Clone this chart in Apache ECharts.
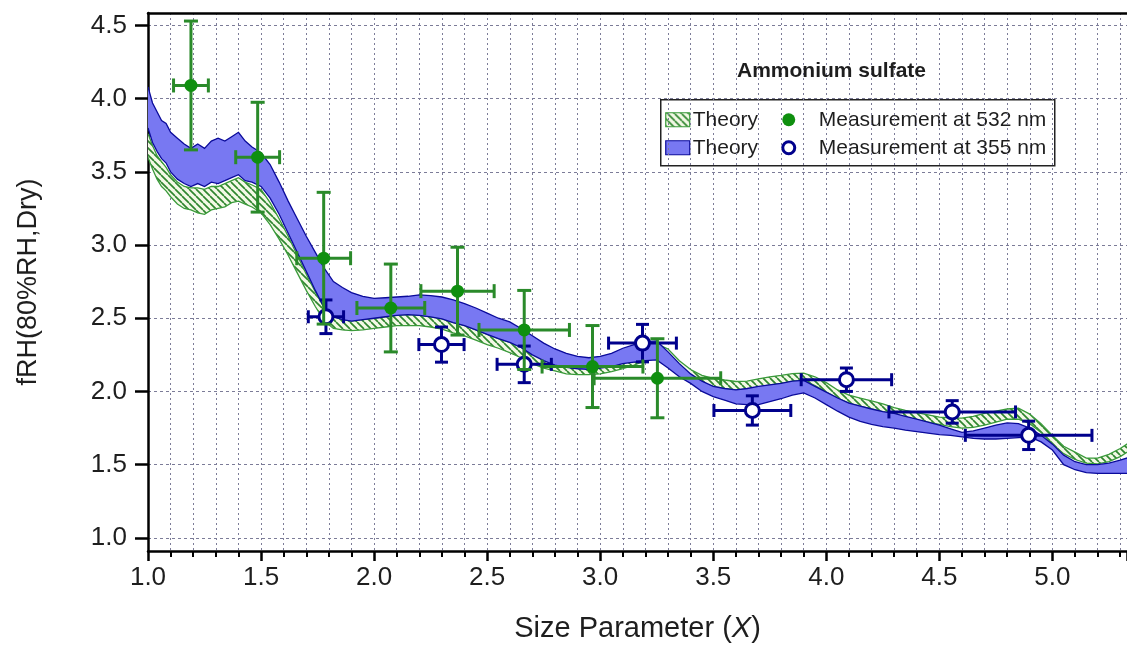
<!DOCTYPE html>
<html>
<head>
<meta charset="utf-8">
<script src="https://cdn.jsdelivr.net/npm/echarts@6/dist/echarts.min.js"></script>
<style>
  html, body { margin: 0; padding: 0; background: #ffffff; }
  #chart { width: 1127px; height: 648px; }
</style>
</head>
<body>
<div id="chart"></div>
<script>
// ---- Theory bands: size parameter and lower / upper fRH bounds ----
const theoryX = [1.00,1.02,1.04,1.06,1.08,1.10,1.13,1.16,1.19,1.22,1.25,1.28,1.31,1.34,1.37,1.40,1.43,1.46,
  1.50,1.54,1.58,1.62,1.66,1.70,1.74,1.78,1.82,1.86,1.90,1.95,2.00,2.05,2.10,2.15,2.20,2.25,2.30,2.35,2.40,
  2.45,2.50,2.55,2.60,2.65,2.70,2.75,2.80,2.85,2.90,2.95,3.00,3.05,3.10,3.15,3.20,3.25,3.30,3.35,3.40,3.45,
  3.50,3.55,3.60,3.65,3.70,3.75,3.80,3.85,3.90,3.95,4.00,4.05,4.10,4.15,4.20,4.25,4.30,4.35,4.40,4.45,4.50,
  4.55,4.60,4.65,4.70,4.75,4.80,4.85,4.90,4.95,5.00,5.05,5.10,5.15,5.20,5.25,5.30,5.34];

// 532 nm theory band
const theory532Low = [3.60,3.52,3.45,3.40,3.37,3.33,3.28,3.25,3.24,3.22,3.21,3.24,3.25,3.26,3.29,3.30,3.28,3.26,
  3.22,3.14,3.04,2.93,2.81,2.69,2.58,2.48,2.43,2.42,2.415,2.42,2.43,2.44,2.45,2.45,2.45,2.44,2.425,2.40,2.38,
  2.35,2.32,2.295,2.265,2.23,2.19,2.16,2.14,2.12,2.115,2.115,2.12,2.135,2.155,2.18,2.21,2.25,2.20,2.13,2.08,2.055,
  2.035,2.02,2.01,2.015,2.03,2.045,2.055,2.07,2.075,2.04,1.995,1.955,1.92,1.90,1.88,1.862,1.845,1.825,1.805,1.79,1.775,
  1.76,1.75,1.755,1.77,1.79,1.81,1.81,1.78,1.72,1.64,1.575,1.535,1.51,1.505,1.52,1.555,1.595];
const theory532High = [3.76,3.68,3.61,3.57,3.53,3.48,3.43,3.40,3.39,3.39,3.38,3.40,3.40,3.42,3.44,3.46,3.43,3.41,
  3.38,3.29,3.18,3.06,2.93,2.80,2.68,2.57,2.51,2.49,2.48,2.49,2.50,2.51,2.52,2.525,2.52,2.51,2.495,2.47,2.45,
  2.42,2.39,2.36,2.335,2.30,2.255,2.22,2.19,2.175,2.165,2.165,2.175,2.19,2.21,2.24,2.275,2.325,2.29,2.21,2.15,2.11,
  2.09,2.078,2.068,2.07,2.085,2.10,2.11,2.122,2.125,2.10,2.06,2.01,1.975,1.955,1.935,1.915,1.89,1.87,1.855,1.84,1.825,
  1.82,1.818,1.83,1.85,1.865,1.88,1.885,1.845,1.78,1.70,1.625,1.585,1.545,1.545,1.57,1.61,1.65];

// 355 nm theory band
const theory355Low = [3.80,3.70,3.64,3.59,3.56,3.50,3.45,3.42,3.40,3.42,3.40,3.43,3.42,3.44,3.46,3.48,3.44,3.43,
  3.40,3.32,3.21,3.08,2.95,2.82,2.69,2.57,2.51,2.49,2.48,2.49,2.50,2.51,2.52,2.525,2.52,2.51,2.495,2.47,2.45,
  2.42,2.39,2.36,2.335,2.30,2.25,2.21,2.18,2.165,2.155,2.15,2.16,2.17,2.19,2.20,2.21,2.215,2.16,2.10,2.055,2.00,
  1.965,1.94,1.915,1.91,1.91,1.93,1.95,1.975,1.99,1.955,1.91,1.865,1.825,1.795,1.775,1.76,1.75,1.735,1.725,1.715,1.705,
  1.70,1.69,1.68,1.675,1.675,1.68,1.685,1.69,1.655,1.60,1.50,1.465,1.445,1.44,1.44,1.44,1.44];
const theory355High = [4.08,3.97,3.91,3.85,3.83,3.77,3.73,3.69,3.66,3.69,3.66,3.71,3.73,3.71,3.74,3.77,3.71,3.67,
  3.63,3.55,3.43,3.30,3.18,3.06,2.95,2.84,2.75,2.71,2.675,2.65,2.635,2.64,2.645,2.65,2.66,2.655,2.645,2.625,2.60,
  2.57,2.535,2.50,2.475,2.43,2.38,2.33,2.29,2.26,2.24,2.23,2.24,2.26,2.295,2.32,2.34,2.345,2.27,2.19,2.12,2.07,
  2.035,2.02,2.01,2.02,2.035,2.045,2.055,2.07,2.075,2.035,1.995,1.955,1.92,1.90,1.88,1.862,1.85,1.83,1.81,1.79,1.77,
  1.745,1.72,1.73,1.75,1.77,1.785,1.78,1.75,1.70,1.64,1.565,1.52,1.50,1.50,1.51,1.53,1.55];

// ---- Measurements with x / y uncertainties ----
const meas532X    = [1.19, 1.485, 1.777, 2.074, 2.369, 2.664, 2.966, 3.253];
const meas532Y    = [4.09, 3.60, 2.91, 2.57, 2.685, 2.42, 2.17, 2.09];
const meas532XErr = [0.077, 0.097, 0.119, 0.15, 0.162, 0.20, 0.223, 0.28];
const meas532YErr = [0.44, 0.375, 0.45, 0.30, 0.30, 0.27, 0.28, 0.27];

const meas355X    = [1.787, 2.298, 2.664, 3.187, 3.673, 4.089, 4.557, 4.895];
const meas355Y    = [2.51, 2.32, 2.185, 2.33, 1.87, 2.08, 1.86, 1.70];
const meas355XErr = [0.078, 0.10, 0.12, 0.15, 0.17, 0.20, 0.28, 0.28];
const meas355YErr = [0.115, 0.12, 0.125, 0.128, 0.10, 0.08, 0.077, 0.097];

// ---- Axis ticks ----
const yTickValues = [1.0, 1.5, 2.0, 2.5, 3.0, 3.5, 4.0, 4.5];

const GREEN_LINE = '#3a9a3a';
const GREEN_BAR = '#2a8a2a';
const GREEN_DOT = '#0f8f0f';
const BLUE_FILL = '#7878f2';
const BLUE_LINE = '#0a0a9a';
const BLUE_MARK = '#00008c';
const GRID = '#7c7c98';
const TEXT = '#1e1e1e';
const FONT = 'Arial, "Liberation Sans", sans-serif';

// diagonal hatch used for the 532 nm band
function makeHatch() {
  const s = 7;
  const c = document.createElement('canvas');
  c.width = s; c.height = s;
  const ctx = c.getContext('2d');
  ctx.fillStyle = '#f3f9e6';
  ctx.fillRect(0, 0, s, s);
  ctx.strokeStyle = '#2f862f';
  ctx.lineWidth = 1.7;
  for (const off of [-s, 0, s]) {
    ctx.beginPath();
    ctx.moveTo(off, 0);
    ctx.lineTo(off + s, s);
    ctx.stroke();
  }
  return c;
}
const hatchPattern = { image: makeHatch(), repeat: 'repeat' };

const pairs = (xs, ys) => xs.map((x, i) => [x, ys[i]]);

// filled band between two curves, outlined on both edges
function bandSeries(name, lo, hi, lineColor, fill, z) {
  return {
    name, type: 'custom', z, silent: true, clip: true,
    data: theoryX.map((x, i) => [x, lo[i], hi[i]]),
    encode: { x: 0, y: [1, 2] },
    renderItem(params, api) {
      if (params.dataIndex !== 0) return null;
      const upper = theoryX.map((x, i) => api.coord([x, hi[i]]));
      const lower = theoryX.map((x, i) => api.coord([x, lo[i]]));
      const edge = { stroke: lineColor, lineWidth: 1.3, fill: null };
      return { type: 'group', children: [
        { type: 'polygon', shape: { points: upper.concat(lower.slice().reverse()) },
          style: { fill: fill, stroke: null } },
        { type: 'polyline', shape: { points: upper }, style: edge },
        { type: 'polyline', shape: { points: lower }, style: edge }
      ]};
    }
  };
}

function errorBars(xs, ys, xe, ye, color, width, cap, z) {
  return {
    type: 'custom', z, silent: true, clip: false,
    data: xs.map((x, i) => [x, ys[i], xe[i], ye[i]]),
    encode: { x: 0, y: 1 },
    renderItem(params, api) {
      const x = api.value(0), y = api.value(1), dx = api.value(2), dy = api.value(3);
      const l = api.coord([x - dx, y]), r = api.coord([x + dx, y]);
      const t = api.coord([x, y + dy]), b = api.coord([x, y - dy]);
      const style = { stroke: color, lineWidth: width, fill: null };
      const seg = (x1, y1, x2, y2) => ({ type: 'line', shape: { x1, y1, x2, y2 }, style });
      return { type: 'group', children: [
        seg(l[0], l[1], r[0], r[1]),
        seg(t[0], t[1], b[0], b[1]),
        seg(l[0], l[1] - cap, l[0], l[1] + cap),
        seg(r[0], r[1] - cap, r[0], r[1] + cap),
        seg(t[0] - cap, t[1], t[0] + cap, t[1]),
        seg(b[0] - cap, b[1], b[0] + cap, b[1])
      ]};
    }
  };
}

const dotted = (dash) => ({ show: true, lineStyle: { color: GRID, width: 1, type: dash } });

const chart = echarts.init(document.getElementById('chart'), null, { renderer: 'canvas' });

const option = {
  animation: false,
  backgroundColor: '#ffffff',
  textStyle: { fontFamily: FONT },
  grid: { left: 148, right: 0, top: 13, bottom: 95, containLabel: false },
  xAxis: [
    {
      type: 'value', min: 1.0, max: 5.33, interval: 0.5, position: 'bottom',
      axisLine: { show: true, onZero: false, lineStyle: { color: '#000', width: 2.5 } },
      axisTick: { show: true, length: 10, lineStyle: { color: '#000', width: 2.5 } },
      minorTick: { show: true, splitNumber: 5, length: 6, lineStyle: { color: '#000', width: 2 } },
      splitLine: dotted([2, 3]),
      minorSplitLine: dotted([2, 3]),
      axisLabel: { fontSize: 26, color: TEXT, margin: 14, showMaxLabel: false,
        formatter: v => (Math.abs(v * 2 - Math.round(v * 2)) < 1e-6 ? v.toFixed(1) : '') },
      name: 'Size Parameter ({i|X})', nameLocation: 'middle', nameGap: 63,
      nameTextStyle: { fontSize: 29, color: TEXT, rich: { i: { fontSize: 29, fontStyle: 'italic', color: TEXT } } }
    },
    {
      type: 'value', min: 1.0, max: 5.33, position: 'top',
      axisLine: { show: true, onZero: false, lineStyle: { color: '#000', width: 2.5 } },
      axisTick: { show: false }, axisLabel: { show: false }, splitLine: { show: false }
    }
  ],
  yAxis: {
    type: 'value', min: 0.91, max: 4.585, splitNumber: 7,
    axisLine: { show: true, onZero: false, lineStyle: { color: '#000', width: 2.5 } },
    axisTick: { show: true, length: 13, customValues: yTickValues, lineStyle: { color: '#000', width: 2.5 } },
    splitLine: dotted([3, 3]),
    axisLabel: { fontSize: 26, color: TEXT, margin: 21, customValues: yTickValues,
      formatter: v => v.toFixed(1) },
    name: 'fRH(80%RH,Dry)', nameLocation: 'middle', nameGap: 106,
    nameTextStyle: { fontSize: 27, color: TEXT }
  },
  series: [
    bandSeries('Theory 532', theory532Low, theory532High, GREEN_LINE, hatchPattern, 2),
    bandSeries('Theory 355', theory355Low, theory355High, BLUE_LINE, BLUE_FILL, 3),
    errorBars(meas355X, meas355Y, meas355XErr, meas355YErr, BLUE_MARK, 3, 6.5, 5),
    { name: 'Measurement at 355 nm', type: 'scatter', z: 6, silent: true,
      data: pairs(meas355X, meas355Y), symbol: 'circle', symbolSize: 14,
      itemStyle: { color: '#ffffff', borderColor: BLUE_MARK, borderWidth: 3, opacity: 1 } },
    errorBars(meas532X, meas532Y, meas532XErr, meas532YErr, GREEN_BAR, 3, 7, 7),
    { name: 'Measurement at 532 nm', type: 'scatter', z: 8, silent: true,
      data: pairs(meas532X, meas532Y), symbol: 'circle', symbolSize: 13,
      itemStyle: { color: GREEN_DOT, opacity: 1 } }
  ],
  graphic: [
    { type: 'text', left: 737, top: 61, z: 20,
      style: { text: 'Ammonium sulfate', font: 'bold 21px ' + FONT, fill: TEXT } },
    { type: 'group', left: 660, top: 99, z: 20, children: [
      { type: 'rect', shape: { x: 0, y: 0, width: 394, height: 66 },
        style: { fill: '#ffffff', stroke: '#222', lineWidth: 1.5 } },
      { type: 'rect', shape: { x: 5, y: 13, width: 24, height: 14 },
        style: { fill: hatchPattern, stroke: GREEN_LINE, lineWidth: 1.2 } },
      { type: 'text', x: 32, y: 20, style: { text: 'Theory', font: '21px ' + FONT, fill: TEXT, verticalAlign: 'middle' } },
      { type: 'circle', shape: { cx: 128, cy: 20, r: 6.5 }, style: { fill: GREEN_DOT } },
      { type: 'text', x: 158, y: 20, style: { text: 'Measurement at 532 nm', font: '21px ' + FONT, fill: TEXT, verticalAlign: 'middle' } },
      { type: 'rect', shape: { x: 5, y: 41, width: 24, height: 14 },
        style: { fill: BLUE_FILL, stroke: BLUE_LINE, lineWidth: 1.2 } },
      { type: 'text', x: 32, y: 48, style: { text: 'Theory', font: '21px ' + FONT, fill: TEXT, verticalAlign: 'middle' } },
      { type: 'circle', shape: { cx: 128, cy: 48, r: 6 }, style: { fill: '#ffffff', stroke: BLUE_MARK, lineWidth: 3 } },
      { type: 'text', x: 158, y: 48, style: { text: 'Measurement at 355 nm', font: '21px ' + FONT, fill: TEXT, verticalAlign: 'middle' } }
    ]}
  ]
};

chart.setOption(option);
</script>
</body>
</html>
